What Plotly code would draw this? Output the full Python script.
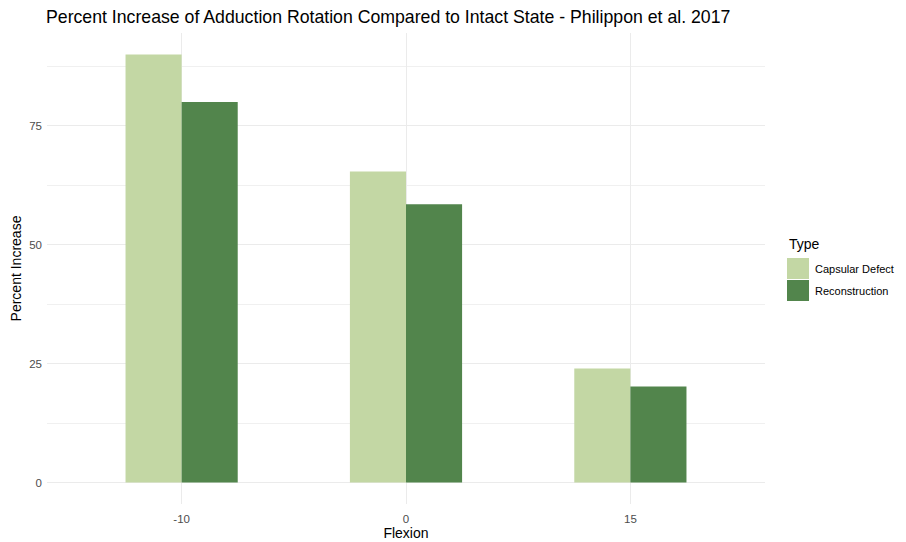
import plotly.graph_objects as go

flexion = ["-10", "0", "15"]
capsular_defect = [90, 65.4, 24]
reconstruction = [80, 58.5, 20.2]
series_names = ["Capsular Defect", "Reconstruction"]
colors = ["#C3D7A4", "#52854C"]
y_ticks = [0, 25, 50, 75]

# the page body has an 8px margin, so the figure is offset by 8px
OFF = 8
W, H = 906 - OFF, 542 - OFF
L, T = 47 - OFF, 33 - OFF
R = W - (765 - OFF)
B = H - (504 - OFF)
pw = W - L - R
ph = H - T - B

fig = go.Figure()
for name, vals, col in zip(series_names, [capsular_defect, reconstruction], colors):
    fig.add_trace(go.Bar(x=flexion, y=vals, name=name, marker=dict(color=col, line=dict(width=0)),
                         showlegend=False))

def px_x(p):
    return (p - OFF - L) / pw

def px_y(p):
    return 1 - (p - OFF - T) / ph

shapes = []
annotations = []
# custom legend
annotations.append(dict(text="Type", x=px_x(787), y=px_y(244), xref="paper", yref="paper",
                        xanchor="left", yanchor="middle", showarrow=False,
                        font=dict(size=14, color="black", family="Liberation Sans, Arial")))
key_tops = [258, 280]
for i, (name, col) in enumerate(zip(series_names, colors)):
    y0 = key_tops[i]
    shapes.append(dict(type="rect", xref="paper", yref="paper",
                       x0=px_x(787), x1=px_x(809), y0=px_y(y0), y1=px_y(y0 + 21),
                       fillcolor=col, line=dict(width=0)))
    annotations.append(dict(text=name, x=px_x(813), y=px_y(y0 + 10.5), xref="paper", yref="paper",
                            xanchor="left", yanchor="middle", showarrow=False,
                            font=dict(size=11, color="black", family="Liberation Sans, Arial")))

fig.update_layout(
    width=W, height=H,
    margin=dict(l=L, r=R, t=T, b=B),
    paper_bgcolor="white", plot_bgcolor="white",
    barmode="group", bargap=0.5, bargroupgap=0,
    font=dict(family="Liberation Sans, Arial", color="#4D4D4D"),
    title=dict(text="Percent Increase of Adduction Rotation Compared to Intact State - Philippon et al. 2017",
               x=(46 - OFF) / W, xanchor="left", y=1 - (17 - OFF) / H, yanchor="middle",
               font=dict(size=17.7, color="black", family="Liberation Sans, Arial")),
    shapes=shapes, annotations=annotations,
    xaxis=dict(type="category", range=[-0.6, 2.6], showgrid=True, gridcolor="#EBEBEB", gridwidth=1,
               zeroline=False, showline=False, ticks="", tickfont=dict(size=11.5, color="#4D4D4D"),
               ticklabelstandoff=6, automargin=False,
               title=dict(text="Flexion", standoff=4, font=dict(size=14, color="black"))),
    yaxis=dict(range=[-4.5, 94.5], tickvals=y_ticks, ticktext=[str(v) for v in y_ticks],
               showgrid=True, gridcolor="#EBEBEB", gridwidth=1, zeroline=False, showline=False,
               ticks="", tickfont=dict(size=11.5, color="#4D4D4D"), ticklabelstandoff=4,
               automargin=False,
               minor=dict(tickvals=[12.5, 37.5, 62.5, 87.5], showgrid=True, gridcolor="#F0F0F0", gridwidth=0.8),
               title=dict(text="Percent Increase", standoff=4, font=dict(size=14, color="black"))),
)

fig.write_html("out.html")
